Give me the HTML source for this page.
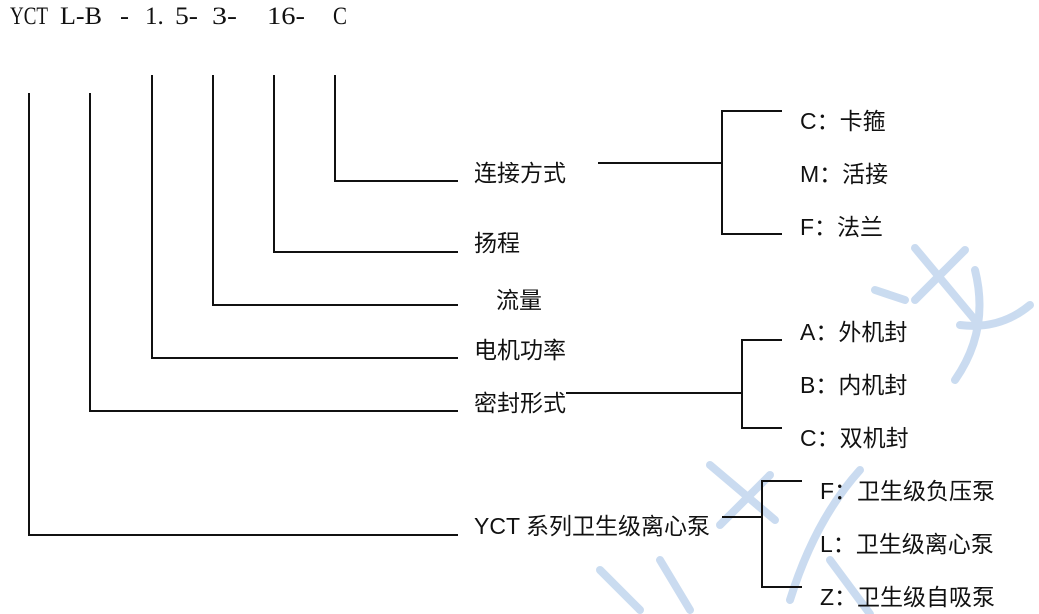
<!DOCTYPE html>
<html><head><meta charset="utf-8">
<style>
html,body{margin:0;padding:0;background:#fff;}
svg{display:block;}
.t{font-family:"Liberation Sans","Noto Sans CJK SC",sans-serif;font-size:23px;fill:#111;}
.h{font-family:"Liberation Serif","Noto Serif CJK SC",serif;font-size:25px;fill:#111;}
</style></head><body>
<svg width="1039" height="614" viewBox="0 0 1039 614" xmlns="http://www.w3.org/2000/svg">
<g stroke="#b4cdea" stroke-width="8" fill="none" stroke-linecap="round" opacity="0.7">
<path d="M915 248 L975 320"/><path d="M965 250 L915 300"/><path d="M875 290 L905 300"/>
<path d="M975 270 Q990 330 955 380"/><path d="M1030 305 Q1000 330 960 325"/>
<path d="M710 465 L775 520"/><path d="M720 525 L770 475"/><path d="M860 470 Q815 520 790 600"/>
<path d="M600 570 L640 610"/><path d="M660 560 L690 610"/><path d="M830 560 L870 614"/>
</g>
<g class="h">
<text x="10" y="24" textLength="38" lengthAdjust="spacingAndGlyphs">YCT</text>
<text x="60" y="24" textLength="42" lengthAdjust="spacingAndGlyphs">L-B</text>
<text x="120" y="24" textLength="9" lengthAdjust="spacingAndGlyphs">-</text>
<text x="145" y="24">1.</text>
<text x="175" y="24" textLength="23" lengthAdjust="spacingAndGlyphs">5-</text>
<text x="212" y="24" textLength="25" lengthAdjust="spacingAndGlyphs">3-</text>
<text x="267" y="24" textLength="38" lengthAdjust="spacingAndGlyphs">16-</text>
<text x="333" y="24" textLength="14" lengthAdjust="spacingAndGlyphs">C</text>
</g>
<g stroke="#111" stroke-width="2" fill="none">
<path d="M29 93 V535 H458"/>
<path d="M90 93 V411 H458"/>
<path d="M152 75 V358 H458"/>
<path d="M213 75 V305 H458"/>
<path d="M274 75 V252 H458"/>
<path d="M335 75 V181 H458"/>
<path d="M598 163 H722"/><path d="M782 111 H722 V234 H782"/>
<path d="M566 393 H742"/><path d="M782 340 H742 V428 H782"/>
<path d="M722 517 H762"/><path d="M802 481 H762 V587 H802"/>
</g>
<text class="t" x="474" y="181">连接方式</text>
<text class="t" x="474" y="251">扬程</text>
<text class="t" x="496" y="308">流量</text>
<text class="t" x="474" y="358">电机功率</text>
<text class="t" x="474" y="411">密封形式</text>
<text class="t" x="474" y="534">YCT 系列卫生级离心泵</text>
<text class="t" x="800" y="129">C：卡箍</text>
<text class="t" x="800" y="182">M：活接</text>
<text class="t" x="800" y="235">F：法兰</text>
<text class="t" x="800" y="340">A：外机封</text>
<text class="t" x="800" y="393">B：内机封</text>
<text class="t" x="800" y="446">C：双机封</text>
<text class="t" x="820" y="499">F：卫生级负压泵</text>
<text class="t" x="820" y="552">L：卫生级离心泵</text>
<text class="t" x="820" y="605">Z：卫生级自吸泵</text>
</svg>
</body></html>
